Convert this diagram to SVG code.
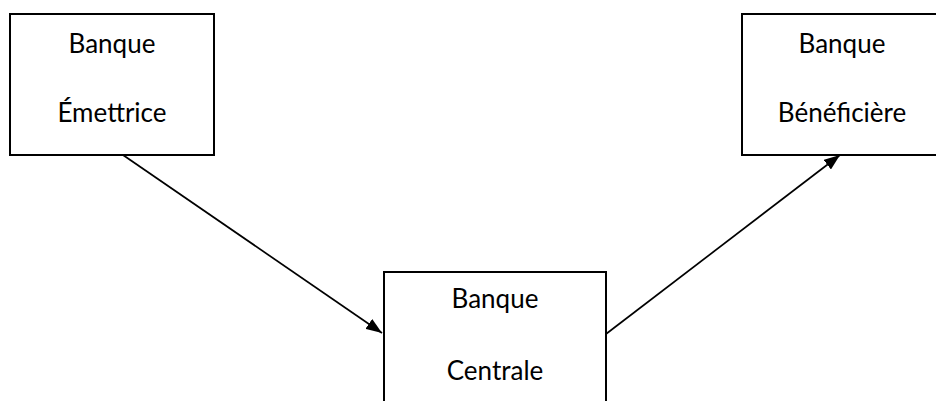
<svg xmlns="http://www.w3.org/2000/svg" width="936" height="401" viewBox="0 0 936 401">
  <style>
    .box { fill: #ffffff; stroke: #000000; stroke-width: 2; }
    .label { font-family: Lato, "Liberation Sans", sans-serif; font-size: 26px; fill: #000000; text-anchor: middle; }
    .link { fill: none; stroke: #000000; stroke-width: 1.7; }
  </style>
  <defs>
    <marker id="arrow" viewBox="0 0 16 12" refX="16" refY="6" markerWidth="16" markerHeight="12" markerUnits="userSpaceOnUse" orient="auto">
      <path d="M0,0 L16,6 L0,12 Z" fill="#000000"/>
    </marker>
  </defs>
  <rect width="936" height="401" fill="#ffffff"/>

  <g id="connectors">
    <line class="link" x1="123" y1="155" x2="382" y2="333" marker-end="url(#arrow)"/>
    <line class="link" x1="606" y1="334" x2="840" y2="155" marker-end="url(#arrow)"/>
  </g>

  <g id="banque-emettrice">
    <rect class="box" x="10" y="14" width="204" height="141"/>
    <text class="label" x="112" y="53">Banque</text>
    <text class="label" x="112" y="122">Émettrice</text>
  </g>

  <g id="banque-beneficiaire">
    <rect class="box" x="742" y="14" width="200" height="141"/>
    <text class="label" x="842" y="53">Banque</text>
    <text class="label" x="842" y="122">Bénéficière</text>
  </g>

  <g id="banque-centrale">
    <rect class="box" x="384" y="272" width="222" height="140"/>
    <text class="label" x="495" y="308">Banque</text>
    <text class="label" x="495" y="380">Centrale</text>
  </g>
</svg>
